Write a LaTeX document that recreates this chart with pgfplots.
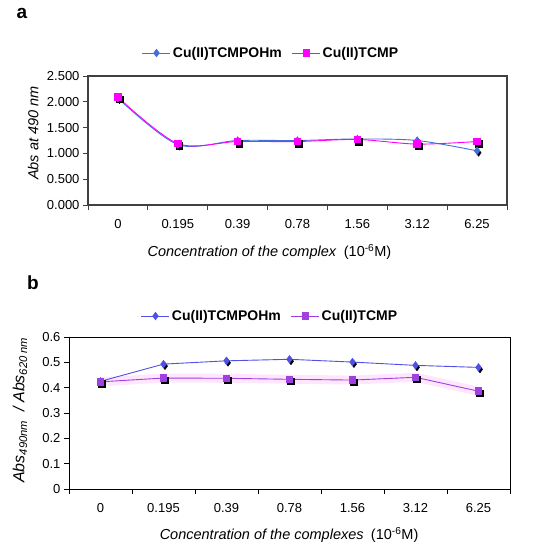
\documentclass[border=0pt]{standalone}
\usepackage{fontspec}
\setmainfont{Liberation Sans}
\usepackage{pgfplots}
\usepackage{pgfplotstable}
\pgfplotsset{compat=1.18}
\definecolor{blueA}{RGB}{64,112,216}
\definecolor{magA}{RGB}{255,0,255}
\definecolor{blueB}{RGB}{80,80,230}
\definecolor{purB}{RGB}{160,64,224}
\definecolor{glowB}{RGB}{255,230,255}

\pgfplotstableread{
x a b
0 2.07 2.09
1 1.17 1.19
2 1.25 1.23
3 1.25 1.23
4 1.28 1.27
5 1.25 1.18
6 1.05 1.23
}\dataA

\pgfplotstableread{
x a b
0 0.425 0.423
1 0.493 0.438
2 0.506 0.437
3 0.512 0.433
4 0.501 0.430
5 0.488 0.441
6 0.480 0.386
}\dataB

\pgfplotsset{
  mystyle/.style={
    scale only axis, anchor=south west,
    xmin=-0.5, xmax=6.5,
    xtick={-0.5,0.5,...,6.5}, xticklabels={},
    extra x ticks={0,1,2,3,4,5,6},
    extra x tick labels={0,0.195,0.39,0.78,1.56,3.12,6.25},
    extra x tick style={major tick length=0pt, tick label style={yshift=-11pt}},
    tick align=outside, xtick pos=bottom, ytick pos=left,
    major tick length=5pt,
    tick label style={font=\fontsize{13}{14}\selectfont},
    /pgf/number format/assume math mode=true,
    legend columns=2,
    legend style={draw=none, fill=none, font=\fontsize{14}{16}\selectfont\bfseries, anchor=center,
      /tikz/every even column/.append style={column sep=8pt}},
    legend image code/.code={\draw[##1] (0pt,0pt) -- (28pt,0pt); \draw[##1] plot[only marks] coordinates {(14pt,0pt)};},
    label style={font=\fontsize{14.5}{16}\selectfont},
  }
}

\begin{document}
\begin{tikzpicture}[x=1pt,y=1pt]
\useasboundingbox (0,0) rectangle (542,550);
\node[font=\fontsize{19}{20}\selectfont\bfseries] at (22,537) {a};
\node[font=\fontsize{19}{20}\selectfont\bfseries] at (33,267) {b};

\begin{axis}[mystyle,
  at={(88pt,345pt)}, width=419pt, height=129pt,
  ymin=0, ymax=2.5, ytick={0,0.5,...,2.5},
  yticklabel style={/pgf/number format/.cd, fixed, fixed zerofill, precision=3},
  axis line style={draw=black!75, line width=1.1pt},
  every tick/.style={black!75, line width=0.8pt},
  legend style={at={(axis description cs:0.437,1.178)}},
  xlabel={\textit{Concentration of the complex}\enspace(10\textsuperscript{-6}M)},
  xlabel style={at={(axis description cs:0.433,0)}, anchor=center, yshift=-47pt},
  ylabel={\textit{Abs at 490 nm}},
  ylabel style={at={(axis description cs:-0.131,0.558)}, anchor=center},
]
\addplot[forget plot, only marks, mark=diamond*, black, mark size=3.5pt, mark options={xshift=1.5pt, yshift=-2pt}] table[x=x,y=a] \dataA;
\addplot[forget plot, only marks, mark=square*, black, mark size=3.3pt, mark options={xshift=1.5pt, yshift=-2pt}] table[x=x,y=b] \dataA;
\addplot[blueA, line width=0.9pt, smooth, tension=0.5, mark=diamond*, mark size=3.5pt, mark options={fill=blueA, draw=blueA}] table[x=x,y=a] \dataA;
\addlegendentry{Cu(II)TCMPOHm}
\addplot[magA, line width=0.9pt, smooth, tension=0.5, mark=square*, mark size=3.3pt, mark options={fill=magA, draw=magA}] table[x=x,y=b] \dataA;
\addlegendentry{Cu(II)TCMP}
\end{axis}

\begin{axis}[mystyle,
  at={(69pt,61pt)}, width=441pt, height=152pt,
  ymin=0, ymax=0.6, ytick={0,0.1,...,0.6},
  axis line style={draw=black, line width=0.8pt},
  every tick/.style={black, line width=0.8pt},
  legend style={at={(axis description cs:0.456,1.138)}},
  xlabel={\textit{Concentration of the complexes}\enspace(10\textsuperscript{-6}M)},
  xlabel style={at={(axis description cs:0.499,0)}, anchor=center, yshift=-46pt},
  ylabel={\textit{Abs\textsubscript{490nm}\ \ / Abs\textsubscript{620 nm}}},
  ylabel style={at={(axis description cs:-0.111,0.52)}, anchor=center, font=\fontsize{16}{17}\selectfont},
]
\addplot[forget plot, glowB, line width=9pt] table[x=x,y=b] \dataB;
\addplot[forget plot, only marks, mark=diamond*, black, mark size=3.5pt, mark options={xshift=1.5pt, yshift=-2pt}] table[x=x,y=a] \dataB;
\addplot[forget plot, only marks, mark=square*, black, mark size=3.3pt, mark options={xshift=1.5pt, yshift=-2pt}] table[x=x,y=b] \dataB;
\addplot[blueB, line width=0.9pt, mark=diamond*, mark size=3.5pt, mark options={fill=blueB, draw=blueB}] table[x=x,y=a] \dataB;
\addlegendentry{Cu(II)TCMPOHm}
\addplot[purB, line width=0.9pt, mark=square*, mark size=3.3pt, mark options={fill=purB, draw=purB}] table[x=x,y=b] \dataB;
\addlegendentry{Cu(II)TCMP}
\end{axis}
\end{tikzpicture}
\end{document}
